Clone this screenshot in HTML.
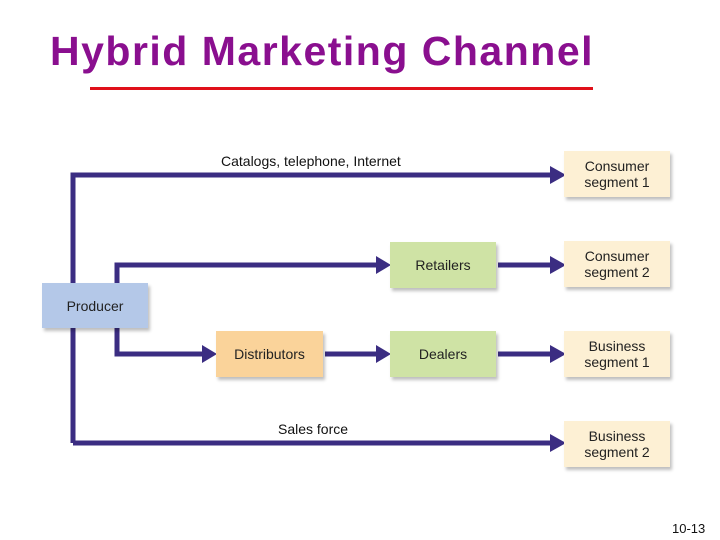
<!DOCTYPE html><html><head><style>
body{margin:0;width:720px;height:540px;background:#fff;overflow:hidden;position:relative;font-family:"Liberation Sans",sans-serif}
.t{position:absolute;left:50px;top:28px;font-size:41px;font-weight:bold;color:#8a0f8f;letter-spacing:1.5px}
.b{position:absolute;display:flex;align-items:center;justify-content:center;text-align:center;font-size:14px;line-height:16px;color:#222;box-shadow:2px 3px 3px rgba(0,0,0,.25)}
.s{position:absolute;font-size:14px;color:#111}
</style></head><body>
<div class="t">Hybrid Marketing Channel</div>
<div style="position:absolute;left:90px;top:87px;width:503px;height:3px;background:#e0101a"></div>
<svg width="720" height="540" style="position:absolute;left:0;top:0">
<g stroke="#3b2d82" stroke-width="5" fill="none">
<polyline points="73,443 73,175 553,175"/>
<polyline points="73,443 553,443"/>
<polyline points="117,283 117,265 378,265"/>
<polyline points="117,328 117,354 204,354"/>
<line x1="325" y1="354" x2="378" y2="354"/>
<line x1="498" y1="265" x2="553" y2="265"/>
<line x1="498" y1="354" x2="553" y2="354"/>
</g>
<g fill="#3b2d82">
<polygon points="550,166 566,175 550,184"/>
<polygon points="550,434 566,443 550,452"/>
<polygon points="376,256 391,265 376,274"/>
<polygon points="202,345 217,354 202,363"/>
<polygon points="376,345 391,354 376,363"/>
<polygon points="550,256 566,265 550,274"/>
<polygon points="550,345 566,354 550,363"/>
</g>
</svg>
<div class="s" style="left:221px;top:153px">Catalogs, telephone, Internet</div>
<div class="s" style="left:278px;top:421px">Sales force</div>
<div class="b" style="left:42px;top:283px;width:106px;height:45px;background:#b4c8e8">Producer</div>
<div class="b" style="left:390px;top:242px;width:106px;height:46px;background:#cfe3a5">Retailers</div>
<div class="b" style="left:216px;top:331px;width:107px;height:46px;background:#fad39a">Distributors</div>
<div class="b" style="left:390px;top:331px;width:106px;height:46px;background:#cfe3a5">Dealers</div>
<div class="b" style="left:564px;top:151px;width:106px;height:46px;background:#fdf0d4">Consumer<br>segment 1</div>
<div class="b" style="left:564px;top:241px;width:106px;height:46px;background:#fdf0d4">Consumer<br>segment 2</div>
<div class="b" style="left:564px;top:331px;width:106px;height:46px;background:#fdf0d4">Business<br>segment 1</div>
<div class="b" style="left:564px;top:421px;width:106px;height:46px;background:#fdf0d4">Business<br>segment 2</div>
<div class="s" style="left:672px;top:521px;font-size:13px">10-13</div>
</body></html>
